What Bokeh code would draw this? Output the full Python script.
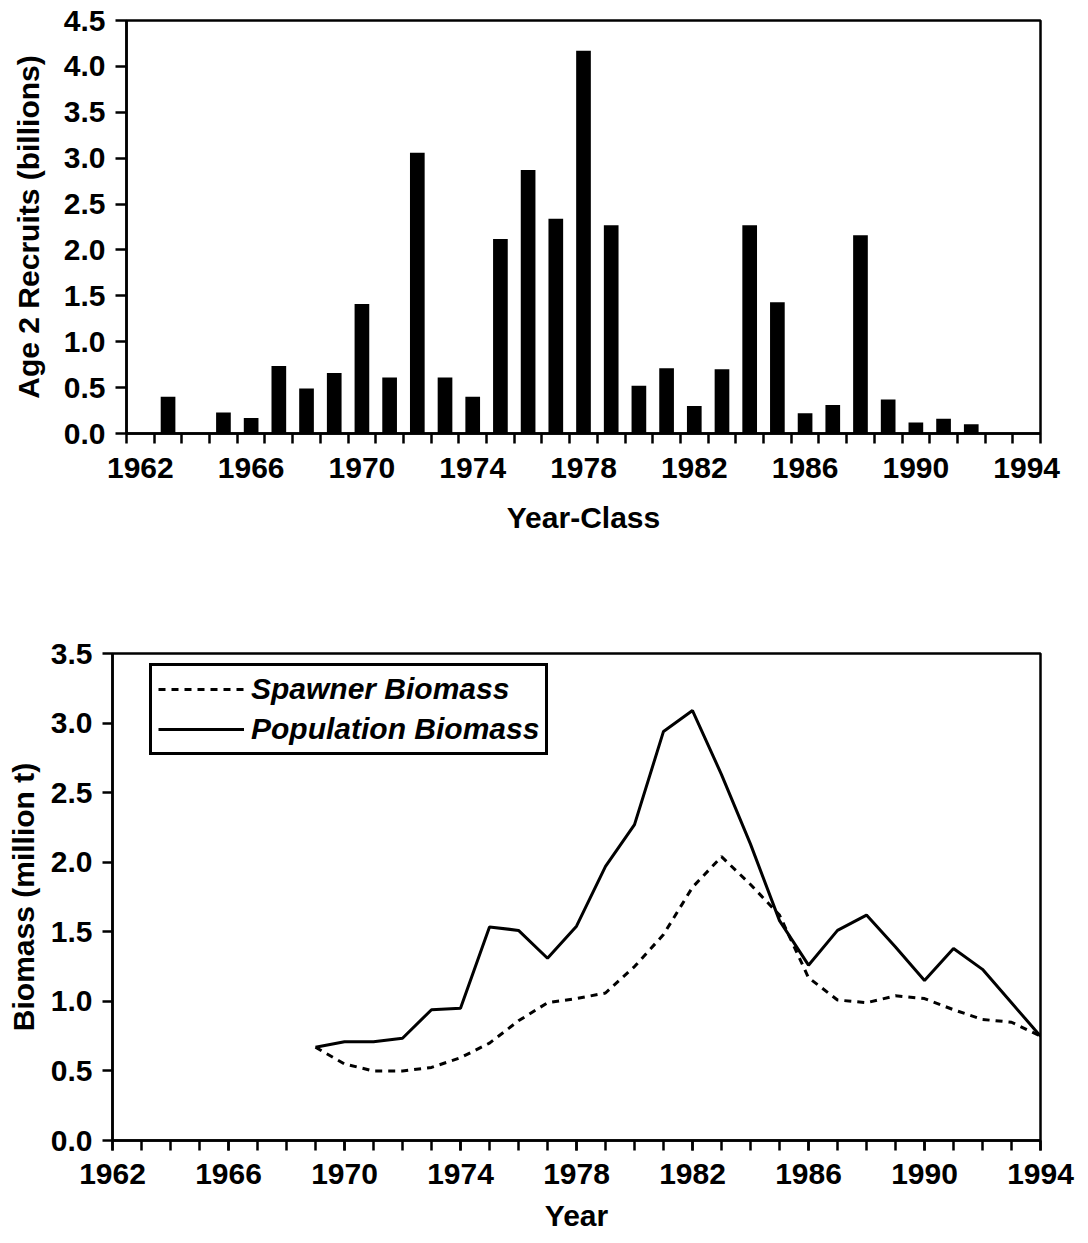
from bokeh.plotting import figure
from bokeh.models import Range1d, FixedTicker, NumeralTickFormatter, Legend, LegendItem
from bokeh.embed import file_html
from bokeh.resources import INLINE

# ---- data: top panel (age-2 recruits by year-class, billions) ----
year_class = list(range(1962, 1995))
recruits = [0, 0.40, 0, 0.23, 0.17, 0.735, 0.49, 0.66, 1.41, 0.61,
            3.06, 0.61, 0.40, 2.12, 2.87, 2.34, 4.17, 2.27, 0.52, 0.71,
            0.30, 0.70, 2.27, 1.43, 0.22, 0.31, 2.16, 0.37, 0.12, 0.16,
            0.10, 0, 0]

# ---- data: bottom panel (biomass, million t) ----
years = list(range(1969, 1995))
population_biomass = [0.67, 0.71, 0.71, 0.735, 0.94, 0.95, 1.535, 1.51,
                      1.31, 1.54, 1.97, 2.27, 2.94, 3.09, 2.63, 2.13, 1.58,
                      1.26, 1.51, 1.62, 1.39, 1.15, 1.38, 1.23, 0.99, 0.75]
spawner_biomass = [0.67, 0.55, 0.50, 0.50, 0.525, 0.595, 0.70, 0.86,
                   0.99, 1.02, 1.06, 1.25, 1.48, 1.82, 2.04, 1.84, 1.62,
                   1.17, 1.01, 0.99, 1.04, 1.02, 0.94, 0.87, 0.85, 0.75]

x_labels = [1962, 1966, 1970, 1974, 1978, 1982, 1986, 1990, 1994]
y_ticks_top = [0, 0.5, 1.0, 1.5, 2.0, 2.5, 3.0, 3.5, 4.0, 4.5]
y_ticks_bottom = [0, 0.5, 1.0, 1.5, 2.0, 2.5, 3.0, 3.5]

FONT = "Liberation Sans"
LW = 2.5


def style_axes(p):
    for ax in (p.xaxis[0], p.yaxis[0]):
        ax.axis_line_width = LW
        ax.axis_line_color = "black"
        ax.major_label_text_font = FONT
        ax.major_label_text_font_style = "bold"
        ax.major_label_text_font_size = "30px"
        ax.major_label_text_color = "black"
        ax.axis_label_text_font = FONT
        ax.axis_label_text_font_style = "bold"
        ax.axis_label_text_font_size = "30px"
        ax.axis_label_text_color = "black"
    p.xgrid.visible = False
    p.ygrid.visible = False
    p.outline_line_color = "black"
    p.outline_line_width = LW
    p.outline_line_alpha = 1.0
    p.background_fill_color = "white"
    p.border_fill_color = "white"


# ---------------- top panel ----------------
p1 = figure(frame_width=914, frame_height=413, output_backend="svg",
            toolbar_location=None, min_border_left=126, min_border_right=48,
            min_border_top=20, min_border_bottom=120,
            x_range=Range1d(year_class[0] - 0.5, year_class[-1] + 0.5),
            y_range=Range1d(0, 4.5))
p1.vbar(x=year_class, top=recruits, width=0.53, bottom=0,
        fill_color="black", line_color=None)
style_axes(p1)
p1.xaxis.ticker = FixedTicker(ticks=x_labels,
                              minor_ticks=[y - 0.5 for y in year_class] + [year_class[-1] + 0.5])
p1.xaxis.major_tick_in = 0
p1.xaxis.major_tick_out = 0
p1.xaxis.minor_tick_in = 0
p1.xaxis.minor_tick_out = 10
p1.xaxis.minor_tick_line_width = LW
p1.xaxis.minor_tick_line_color = "black"
p1.xaxis.major_label_standoff = 14
p1.xaxis.axis_label = "Year-Class"
p1.xaxis.axis_label_standoff = 20
p1.yaxis.ticker = FixedTicker(ticks=y_ticks_top)
p1.yaxis.formatter = NumeralTickFormatter(format="0.0")
p1.yaxis.major_tick_in = 0
p1.yaxis.major_tick_out = 11
p1.yaxis.major_tick_line_width = LW
p1.yaxis.minor_tick_line_color = None
p1.yaxis.major_label_standoff = 10
p1.yaxis.axis_label = "Age 2 Recruits (billions)"
p1.yaxis.axis_label_standoff = 16

# ---------------- bottom panel ----------------
p2 = figure(frame_width=928, frame_height=487, output_backend="svg",
            toolbar_location=None, min_border_left=112, min_border_right=48,
            min_border_top=100, min_border_bottom=103,
            x_range=Range1d(1962, 1994), y_range=Range1d(0, 3.5))
r_sp = p2.line(years, spawner_biomass, line_color="black", line_width=3,
               line_dash="7 6")
r_pop = p2.line(years, population_biomass, line_color="black", line_width=3)
style_axes(p2)
p2.xaxis.ticker = FixedTicker(ticks=x_labels, minor_ticks=list(range(1962, 1995)))
p2.xaxis.major_tick_in = 0
p2.xaxis.major_tick_out = 10
p2.xaxis.major_tick_line_width = LW
p2.xaxis.minor_tick_in = 0
p2.xaxis.minor_tick_out = 10
p2.xaxis.minor_tick_line_width = LW
p2.xaxis.minor_tick_line_color = "black"
p2.xaxis.major_label_standoff = 13
p2.xaxis.axis_label = "Year"
p2.xaxis.axis_label_standoff = 12
p2.yaxis.ticker = FixedTicker(ticks=y_ticks_bottom)
p2.yaxis.formatter = NumeralTickFormatter(format="0.0")
p2.yaxis.major_tick_in = 0
p2.yaxis.major_tick_out = 10
p2.yaxis.major_tick_line_width = LW
p2.yaxis.minor_tick_line_color = None
p2.yaxis.major_label_standoff = 10
p2.yaxis.axis_label = "Biomass (million t)"
p2.yaxis.axis_label_standoff = 8

legend = Legend(items=[LegendItem(label="Spawner Biomass", renderers=[r_sp]),
                       LegendItem(label="Population Biomass", renderers=[r_pop])],
                location=(37, 385))
legend.label_text_font = FONT
legend.label_text_font_style = "bold italic"
legend.label_text_font_size = "30px"
legend.label_text_color = "black"
legend.glyph_width = 86
legend.glyph_height = 30
legend.label_height = 34
legend.label_standoff = 7
legend.spacing = 6
legend.padding = 6
legend.margin = 0
legend.border_line_color = "black"
legend.border_line_alpha = 1.0
legend.border_line_width = 3
legend.background_fill_color = "white"
legend.background_fill_alpha = 1.0
p2.add_layout(legend)

open("out.html", "w").write(file_html([p1, p2], INLINE))
